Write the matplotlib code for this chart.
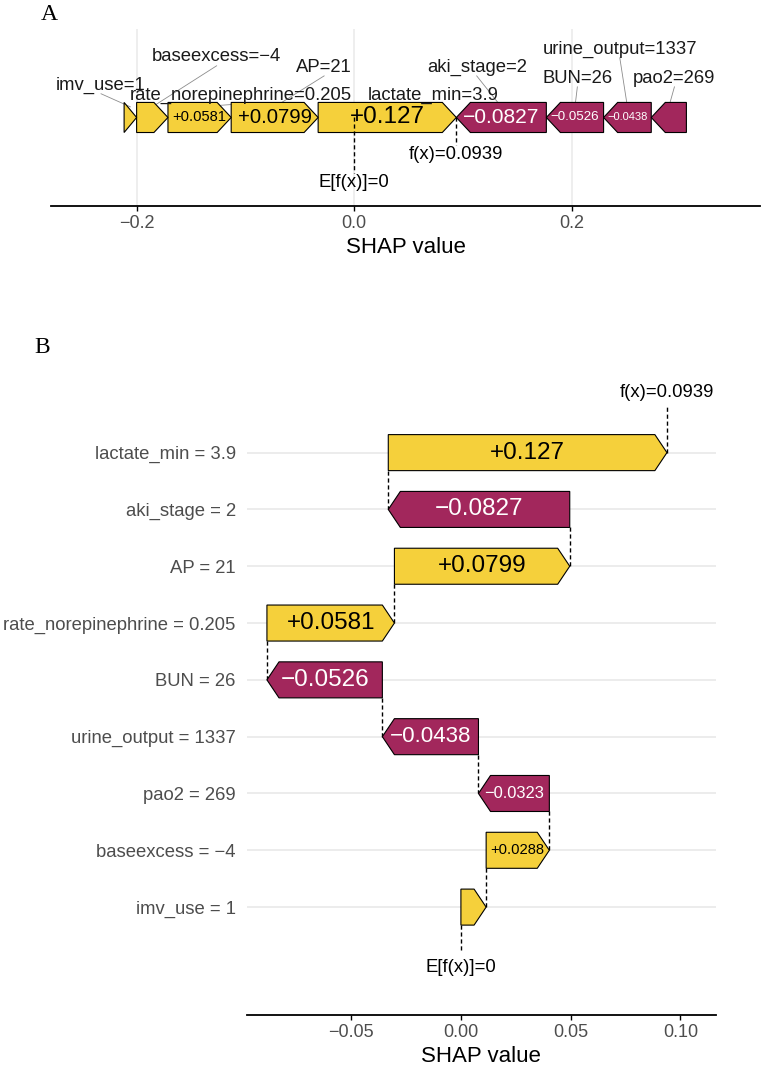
import numpy as np
import matplotlib
matplotlib.use("Agg")
import matplotlib.pyplot as plt
from matplotlib.patches import Polygon

plt.rcParams['font.family'] = ['Liberation Sans', 'DejaVu Sans']

# SHAP explanation for one sample (ordered by |value|)
features = ['lactate_min', 'aki_stage', 'AP', 'rate_norepinephrine', 'BUN',
            'urine_output', 'pao2', 'baseexcess', 'imv_use']
feature_values = ['3.9', '2', '21', '0.205', '26', '1337', '269', '\u22124', '1']
shap_values = [0.127, -0.0827, 0.0799, 0.0581, -0.0526, -0.0438, -0.0323, 0.0288, 0.0115]
base_value = 0.0

# text positions of the feature labels in panel A (x in SHAP units, y in axes units)
label_pos_a = {
    'imv_use': (-0.2326, 0.684),
    'baseexcess': (-0.1264, 0.842),
    'rate_norepinephrine': (-0.1044, 0.627),
    'AP': (-0.0276, 0.785),
    'lactate_min': (0.0722, 0.627),
    'aki_stage': (0.1126, 0.785),
    'urine_output': (0.2441, 0.887),
    'BUN': (0.2051, 0.723),
    'pao2': (0.2943, 0.723),
}

POS = '#F5D03B'
NEG = '#A2275C'
GRID = '#EBEBEB'
TICK = '#4D4D4D'

shap_values = np.array(shap_values)
fx = base_value + shap_values.sum()


def fmt(v):
    return ('%+.3g' % v).replace('-', '\u2212')


def arrow(ax, x0, x1, yc, h, tip, color, z=3):
    # flat end at x0, pointed end at x1
    d = np.sign(x1 - x0)
    t = min(tip, abs(x1 - x0))
    pts = [(x0, yc - h / 2), (x1 - d * t, yc - h / 2), (x1, yc),
           (x1 - d * t, yc + h / 2), (x0, yc + h / 2)]
    ax.add_patch(Polygon(pts, closed=True, facecolor=color, edgecolor='black',
                         lw=0.8, zorder=z, joinstyle='miter'))


def px_width(ax, w):
    return abs(ax.transData.transform((w, 0))[0] - ax.transData.transform((0, 0))[0])


def value_text(ax, x0, x1, yc, v, color):
    size = min(17.5, px_width(ax, x1 - x0) * 0.168)
    if size >= 6.5:
        ax.text((x0 + x1) / 2, yc, fmt(v), ha='center', va='center',
                fontsize=size, color=color, zorder=5)


def style_x(ax):
    for s in ['top', 'right', 'left']:
        ax.spines[s].set_visible(False)
    ax.spines['bottom'].set_linewidth(1.3)
    ax.tick_params(axis='x', length=3.5, width=1, colors='black',
                   labelcolor=TICK, labelsize=13, pad=3)
    ax.set_xlabel('SHAP value', fontsize=16, labelpad=3.5)


fig = plt.figure(figsize=(7.62, 10.66), dpi=100)

# ---------------- panel A: force plot ----------------
axA = fig.add_axes([0.0669, 0.8068, 0.931, 0.166])
axA.set_xlim(-0.2786, 0.3733)
axA.set_ylim(0, 1)
axA.set_xticks([-0.2, 0.0, 0.2])
axA.set_xticklabels(['\u22120.2', '0.0', '0.2'])
axA.set_yticks([])
axA.grid(axis='x', color=GRID, lw=1.2, zorder=0)
axA.set_axisbelow(True)
style_x(axA)

yc, h = 0.5, 0.17
pos_idx = [i for i in range(len(features)) if shap_values[i] > 0]
neg_idx = [i for i in range(len(features)) if shap_values[i] < 0]

right = fx
for i in pos_idx:
    left = right - shap_values[i]
    arrow(axA, left, right, yc, h, 0.0129, POS)
    value_text(axA, left, right, yc, shap_values[i], 'black')
    lx, ly = label_pos_a[features[i]]
    axA.plot([lx, (left + right) / 2], [ly - 0.05, 0.56], color='#8C8C8C', lw=0.6, zorder=2)
    axA.text(lx, ly, '%s=%s' % (features[i], feature_values[i]), ha='center',
             va='center', fontsize=13.3, color='#1A1A1A', zorder=6)
    right = left

left = fx
for i in neg_idx:
    right = left - shap_values[i]
    arrow(axA, right, left, yc, h, 0.0129, NEG)
    value_text(axA, left, right, yc, shap_values[i], 'white')
    lx, ly = label_pos_a[features[i]]
    axA.plot([lx, (left + right) / 2], [ly - 0.05, 0.56], color='#8C8C8C', lw=0.6, zorder=2)
    axA.text(lx, ly, '%s=%s' % (features[i], feature_values[i]), ha='center',
             va='center', fontsize=13.3, color='#1A1A1A', zorder=6)
    left = right

axA.plot([base_value, base_value], [0.5, 0.186], color='black', ls=(0, (3, 2)), lw=1, zorder=4)
axA.text(base_value, 0.13, 'E[f(x)]=%g' % base_value, ha='center', va='center', fontsize=13.3)
axA.plot([fx, fx], [0.5, 0.345], color='black', ls=(0, (3, 2)), lw=1, zorder=4)
axA.text(fx, 0.288, 'f(x)=%.4f' % fx, ha='center', va='center', fontsize=13.3)

fig.text(0.065, 0.986, 'A', family='Liberation Serif', fontsize=17, ha='center', va='center')

# ---------------- panel B: waterfall ----------------
axB = fig.add_axes([0.3241, 0.0478, 0.6151, 0.5809])
axB.set_xlim(-0.0975, 0.1161)
axB.set_ylim(-0.9, 10.0)
axB.set_xticks([-0.05, 0.0, 0.05, 0.10])
axB.set_xticklabels(['\u22120.05', '0.00', '0.05', '0.10'])
style_x(axB)

n = len(features)
rows = np.arange(n, 0, -1)        # lactate_min on top, imv_use at the bottom
order = np.argsort(rows)           # bottom to top
hb, tipb = 0.634, 0.0055
axB.set_yticks(rows)
axB.set_yticklabels(['%s = %s' % (f, v) for f, v in zip(features, feature_values)])
axB.tick_params(axis='y', length=0, pad=8, labelsize=13.3, labelcolor=TICK)
for r in rows:
    axB.axhline(r, color=GRID, lw=1.3, zorder=0)

start = base_value
prev_row = None
for i in order:
    end = start + shap_values[i]
    r = rows[i]
    arrow(axB, start, end, r, hb, tipb, POS if shap_values[i] > 0 else NEG)
    value_text(axB, start, end, r, shap_values[i], 'black' if shap_values[i] > 0 else 'white')
    if prev_row is None:
        axB.plot([start, start], [r - hb / 2, 0.21], color='black', ls=(0, (3, 2)), lw=1, zorder=2)
    else:
        axB.plot([start, start], [r - hb / 2, prev_row], color='black', ls=(0, (3, 2)), lw=1, zorder=2)
    prev_row = r
    start = end

axB.plot([fx, fx], [rows[0], 9.8], color='black', ls=(0, (3, 2)), lw=1, zorder=2)
axB.text(fx, 10.05, 'f(x)=%.4f' % fx, ha='center', va='center', fontsize=13.3, clip_on=False)
axB.text(base_value, -0.056, 'E[f(x)]=%g' % base_value, ha='center', va='center', fontsize=13.3)

fig.text(0.055, 0.674, 'B', family='Liberation Serif', fontsize=17, ha='center', va='center')

fig.savefig('out.png', dpi=100)
